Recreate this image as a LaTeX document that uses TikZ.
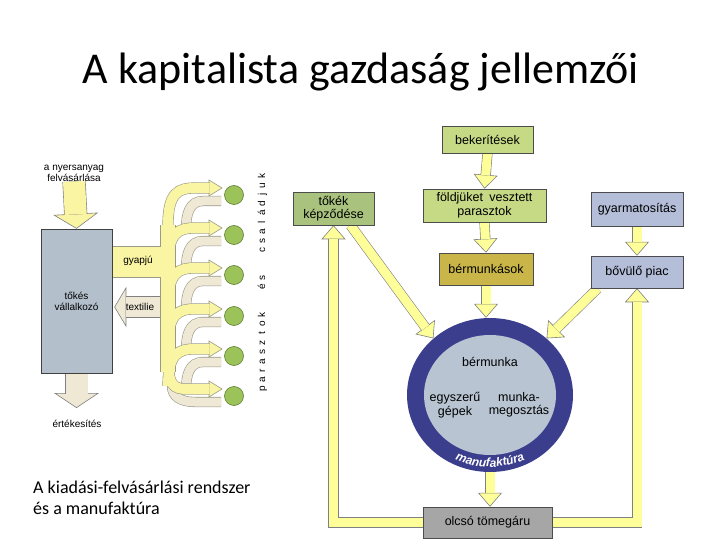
\documentclass[tikz,border=0pt]{standalone}
\usepackage{fontspec}
\setmainfont{Carlito}
\newfontfamily\arialf{Liberation Sans}
\usetikzlibrary{arrows.meta,calc,shapes.geometric,decorations.text}
\pgfdeclarelayer{bg}
\pgfsetlayers{bg,main}

\definecolor{arrowyellow}{HTML}{FFFF99}
\definecolor{edgegray}{HTML}{808080}
\definecolor{fanyellow}{HTML}{FAF5A2}
\definecolor{fanbeige}{HTML}{EEE8D4}
\definecolor{fanedge}{HTML}{9A9A88}
\definecolor{boxblue}{HTML}{B3BFCB}
\definecolor{dotgreen}{HTML}{9CC35A}
\definecolor{dotedge}{HTML}{5E7E30}
\definecolor{lgreen}{HTML}{C6D985}
\definecolor{sage}{HTML}{A9C37F}
\definecolor{olive}{HTML}{C9B548}
\definecolor{lav}{HTML}{B4BED9}
\definecolor{midgray}{HTML}{A6A6A6}
\definecolor{ringc}{HTML}{3B3E8D}
\definecolor{innerc}{HTML}{B8C4D2}

% #1 fill, #2 shaft width, #3 head width, #4 head length, #5 start, #6 end
\newcommand\blockarrow[6]{%
  \pgfmathsetlengthmacro\baShort{#4-0.6pt}%
  \draw[line width=0.6pt, draw=edgegray, -{Triangle[length=#4, width=#3, fill=#1]}] (#5) -- (#6);
  \draw[line width=#2+1.2pt, draw=edgegray] (#5) -- ($(#6)!\baShort!(#5)$);
  \draw[line width=#2, draw=#1] (#5) -- ($(#6)!\baShort!(#5)$);
}
\newcommand\blockarrowbent[6]{%
  \pgfmathsetlengthmacro\baShort{#4-0.6pt}%
  \draw[line width=0.6pt, draw=edgegray, -{Triangle[length=#4, width=#3, fill=#1]}] (#5) -| (#6);
  \draw[line width=#2+1.2pt, draw=edgegray] (#5) -| ($(#6)!\baShort!(#6|-#5)$);
  \draw[line width=#2, draw=#1] (#5) -| ($(#6)!\baShort!(#6|-#5)$);
}

\begin{document}
\begin{tikzpicture}[x=1pt,y=-1pt,
  rbox/.style={draw=black!70, line width=0.5pt, align=center, inner sep=0pt,
    font=\arialf\fontsize{12.5}{13.5}\selectfont},
  ltext/.style={align=center, inner sep=0pt, font=\arialf\fontsize{10}{11}\selectfont},
  ctext/.style={align=center, inner sep=0pt, font=\arialf\fontsize{12.5}{13.5}\selectfont},
  vletter/.style={rotate=90, anchor=base, inner sep=0pt, font=\arialf\fontsize{10}{11}\selectfont}]
\useasboundingbox (0,0) rectangle (720,540);

% title and caption
\node[anchor=base, font=\fontsize{44}{50}\selectfont, inner sep=0pt] (title) at (361,84) {A kapitalista gazdaság jellemzői};
\node[anchor=north west, align=left, font=\fontsize{18}{21}\selectfont, inner sep=0pt] (cap) at (33,481) {A kiadási-felvásárlási rendszer\\és a manufaktúra};

% ---------- left diagram ----------
\node[ltext] (nyers) at (74,173) {a nyersanyag\\felvásárlása};
\node[draw=black!75, line width=0.5pt, fill=boxblue, minimum width=71, minimum height=144, ltext] (tokes) at (76.5,301) {tőkés\\vállalkozó};
\coordinate (sell) at (76.5,408);
\node[ltext] (ertek) at (77,424) {értékesítés};
\coordinate (trunkmid) at (170,307);
\coordinate (textiltip) at ($(tokes.east)+(2,6)$);

\foreach \cy [count=\i] in {195,235,275,316,356,396}
  \node[circle, draw=dotedge, line width=0.6pt, fill=dotgreen, minimum size=19, inner sep=0pt] (dot\i) at (234,\cy) {};

\node[ltext] (gyapju) at (138,261) {gyapjú};
\node[ltext] (textil) at (140,307) {textilie};

\foreach \ch/\k [count=\j] in {p/0,a/1,r/2,a/3,s/4,z/5,t/6,o/7,k/8,é/11,s/12,c/15,s/16,a/17,l/18,á/19,d/20,j/21,u/22,k/23}
  \node[vletter] (v\j) at (265,389-\k*9.26) {\ch};

% ---------- right diagram ----------
\node[rbox, fill=lgreen, minimum width=91, minimum height=27] (bek) at (487.5,139.5) {bekerítések};
\node[rbox, fill=lgreen, minimum width=123, minimum height=33] (fold) at (484.5,205.5) {földjüket\enspace vesztett\\parasztok};
\node[rbox, fill=olive, minimum width=94, minimum height=32] (berm) at (486,269) {bérmunkások};
\node[rbox, fill=sage, minimum width=81, minimum height=33] (tokek) at (333.5,208.5) {tőkék\\képződése};
\node[rbox, fill=lav, minimum width=92, minimum height=34] (gyarm) at (637,209) {gyarmatosítás};
\node[rbox, fill=lav, minimum width=92, minimum height=32] (piac) at (637,272) {bővülő piac};
\node[rbox, fill=midgray, minimum width=129, minimum height=31] (olcso) at (487.5,522.5) {olcsó tömegáru};

\node[ellipse, fill=ringc, minimum width=166, minimum height=154, inner sep=0pt] (manuf) at (490,395) {};
\node[ellipse, fill=innerc, minimum width=132, minimum height=120, inner sep=0pt] (manufin) at (490,395) {};
\node[ctext] (bmk) at (490,362) {bérmunka};
\node[ctext] (egysz) at (455,405) {egyszerű\\gépek};
\node[ctext] (munkam) at (519,405) {munka-\\megosztás};
\path[decorate, decoration={text along path, text align=center,
    text={|\arialf\bfseries\itshape\fontsize{12}{12}\selectfont\color{white}|manufaktúra}}]
  (490,395) ++(125:78 and 72) arc[start angle=125, end angle=55, x radius=78, y radius=72];

\coordinate (tokekout) at ($(tokek.south)+(17,0)$);
\coordinate (piacout) at ($(piac.south west)+(7,0)$);

\begin{pgfonlayer}{bg}
  % left fan: beige returns
  \foreach \cy in {195,235,275,316,356}
    \draw[fanedge, line width=10.2pt] (221,\cy+6) -- (203,\cy+6) .. controls (190,\cy+6) and (186,\cy+18) .. (186,\cy+34);
  \draw[fanedge, line width=10.2pt] (221,402) -- (195,402) .. controls (180,402) and (172,396) .. (172,386);
  \foreach \cy in {195,235,275,316,356}
    \draw[fanbeige, line width=9pt] (221,\cy+6) -- (203,\cy+6) .. controls (190,\cy+6) and (186,\cy+18) .. (186,\cy+34);
  \draw[fanbeige, line width=9pt] (221,402) -- (195,402) .. controls (180,402) and (172,396) .. (172,386);
  % textilie
  \blockarrow{fanbeige}{20pt}{40pt}{12pt}{trunkmid}{textiltip}
  % yellow heads
  \foreach \cy in {195,235,275,316,356,396}
    \filldraw[fill=fanyellow, draw=fanedge, line width=0.6pt] (209,\cy-15) -- (222,\cy-7) -- (209,\cy+1) -- cycle;
  % yellow network, outline pass then fill pass
  \foreach \col/\add in {fanedge/1.2, fanyellow/0} {
    \draw[\col, line width=30pt+\add pt] (tokes.east |- 0,262) -- (168,262);
    \draw[\col, line width=14pt+\add pt] (168,225) -- (168,372);
    \foreach \cy in {195,235,275,316,356}
      \draw[\col, line width=10pt+\add pt] (168,\cy+30) .. controls (168,\cy-2) and (178,\cy-7) .. (195,\cy-7) -- (209.6,\cy-7);
    \draw[\col, line width=10pt+\add pt] (168,360) .. controls (168,392) and (178,389) .. (195,389) -- (209.6,389);
  }
  % left block arrows
  \blockarrow{fanyellow}{22pt}{45pt}{15pt}{nyers.south}{tokes.north}
  \blockarrow{fanbeige}{22pt}{45pt}{15pt}{tokes.south}{sell}

  % right diagram arrows
  \blockarrow{arrowyellow}{9pt}{24pt}{14pt}{bek.south}{fold.north}
  \blockarrow{arrowyellow}{9pt}{24pt}{14pt}{fold.south}{berm.north}
  \blockarrow{arrowyellow}{9pt}{24pt}{14pt}{gyarm.south}{piac.north}
  \blockarrow{arrowyellow}{9pt}{24pt}{14pt}{berm.south}{berm.south|-manuf.north}
  \blockarrow{arrowyellow}{9pt}{24pt}{14pt}{tokekout}{manuf.135}
  \blockarrow{arrowyellow}{9pt}{24pt}{14pt}{piacout}{manuf.45}
  \blockarrow{arrowyellow}{9pt}{24pt}{14pt}{manuf.south}{manuf.south|-olcso.north}
  \blockarrowbent{arrowyellow}{9pt}{24pt}{14pt}{olcso.west}{tokek.south}
  \blockarrowbent{arrowyellow}{9pt}{24pt}{14pt}{olcso.east}{piac.south}
\end{pgfonlayer}
\end{tikzpicture}
\end{document}
